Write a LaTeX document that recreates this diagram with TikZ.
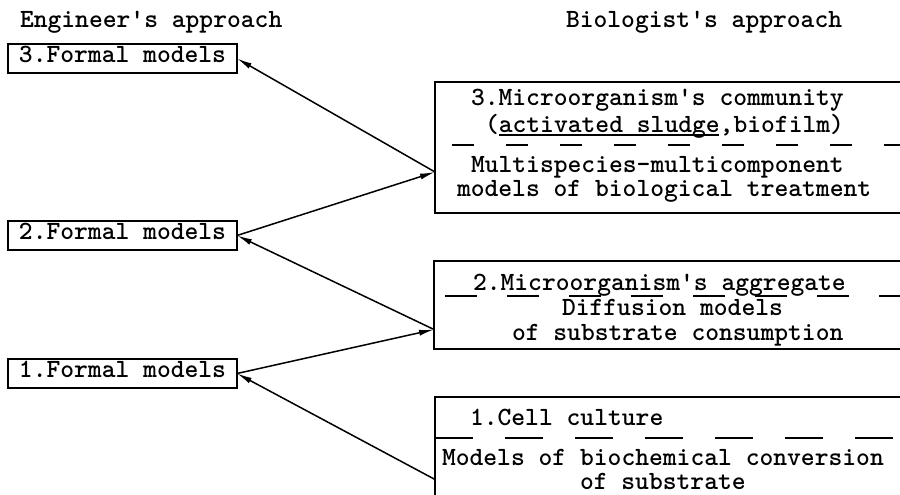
\documentclass[tikz,border=0pt]{standalone}
\usetikzlibrary{arrows.meta}
\newcommand{\apos}{\textquotesingle}
\begin{document}
\begin{tikzpicture}[x=1pt,y=-1pt,
  txt/.style={font=\ttfamily\fontseries{b}\fontsize{26.3}{28}\selectfont, inner sep=0pt, outer sep=0pt},
  lbl/.style={txt, anchor=base west},
  lbox/.style={txt, draw, line width=1.6pt, minimum width=229pt, minimum height=29pt, text height=12pt, text depth=4pt},
  rbox/.style={draw, line width=1.6pt, inner sep=0pt, outer sep=0pt},
  conn/.style={line width=1.5pt, -{Latex[length=15pt,width=6pt]}},
  divider/.style={line width=1.6pt}]
\useasboundingbox (0,0) rectangle (900,495);
\fill[white] (0,0) rectangle (900,495);
\clip (0,0) rectangle (900,495);

% titles
\node[lbl] (teng) at (20,28) {Engineer\apos s approach};
\node[lbl] (tbio) at (566,28) {Biologist\apos s approach};

% left boxes
\node[lbox] (l3) at (122.5,58.5) {3.Formal models};
\node[lbox] (l2) at (122.5,235.5) {2.Formal models};
\node[lbox] (l1) at (122.5,373.5) {1.Formal models};

% right boxes (extend beyond the right edge)
\node[rbox, minimum width=475pt, minimum height=131pt] (r3) at (672.5,147.5) {};
\node[rbox, minimum width=476pt, minimum height=88pt] (r2) at (672,305) {};
\node[rbox, minimum width=475pt, minimum height=116pt] (r1) at (672.5,455) {};

% box 3 texts
\node[lbl] (r3a) at (471,106) {3.Microorganism\apos s community};
\node[lbl] (r3b) at (485,132) {(activated sludge,biofilm)};
\draw[line width=1.2pt] (499,135) -- (719,135);
\draw[divider, dash pattern=on 22pt off 32pt] (452,145) -- (900,145);
\node[lbl] (r3c) at (471,172) {Multispecies-multicomponent};
\node[lbl] (r3d) at (457,196) {models of biological treatment};

% box 2 texts
\node[lbl] (r2a) at (473,290) {2.Microorganism\apos s aggregate};
\draw[divider, dash pattern=on 32pt off 30pt] (445,296) -- (900,296);
\node[lbl] (r2b) at (562,315) {Diffusion models};
\node[lbl] (r2c) at (512,340) {of substrate consumption};

% box 1 texts
\node[lbl] (r1a) at (470,425) {1.Cell culture};
\draw[divider, dash pattern=on 38pt off 32pt] (435,438) -- (900,438);
\node[lbl] (r1b) at (442,465) {Models of biochemical conversion};
\node[lbl] (r1c) at (580,489) {of substrate};

% connectors
\draw[conn] ([yshift=-24.5pt]r1.west) -- (l1.east);
\draw[conn] (l1.east) -- ([yshift=-24.5pt]r2.west);
\draw[conn] ([yshift=-24.5pt]r2.west) -- (l2.east);
\draw[conn] (l2.east) -- ([yshift=-24.5pt]r3.west);
\draw[conn] ([yshift=-24.5pt]r3.west) -- (l3.east);
\end{tikzpicture}
\end{document}
